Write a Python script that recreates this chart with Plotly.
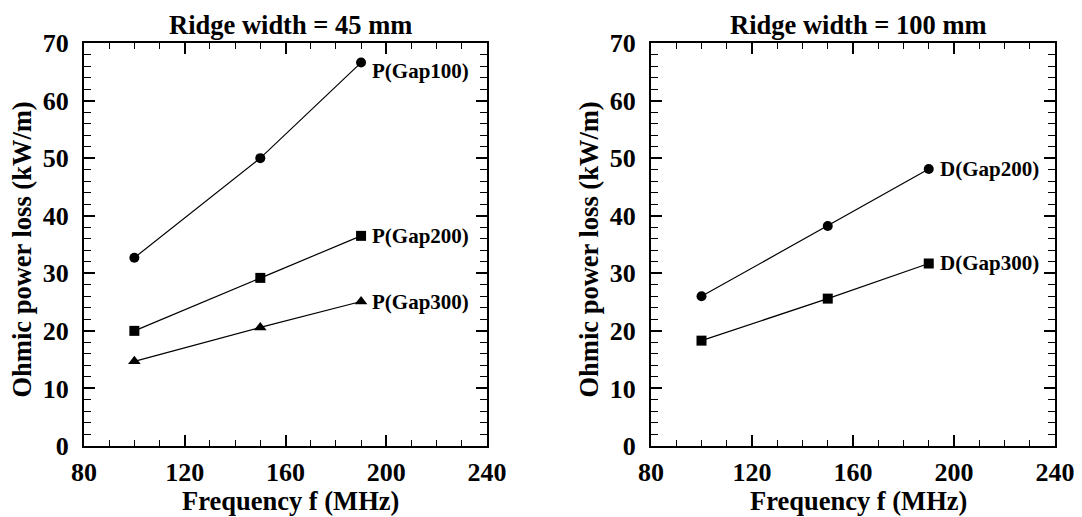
import plotly.graph_objects as go

freq = [100, 150, 190]
left_gap100 = [32.7, 50.0, 66.6]
left_gap200 = [20.0, 29.2, 36.5]
left_gap300 = [14.7, 20.6, 25.1]
right_gap200 = [26.0, 38.2, 48.1]
right_gap300 = [18.3, 25.6, 31.7]

titles = ["Ridge width = 45 mm", "Ridge width = 100 mm"]
x_title = "Frequency f (MHz)"
y_title = "Ohmic power loss (kW/m)"

W, H = 1082, 517
OFF = 8  # page body margin of the html page
FONT = "Liberation Serif"

fig = go.Figure()

series = [
    ("x", "y", left_gap100, "circle", "P(Gap100)", -8),
    ("x", "y", left_gap200, "square", "P(Gap200)", 0),
    ("x", "y", left_gap300, "triangle-up", "P(Gap300)", 0),
    ("x2", "y2", right_gap200, "circle", "D(Gap200)", 0),
    ("x2", "y2", right_gap300, "square", "D(Gap300)", 0),
]

annotations = []
for xa, ya, vals, sym, label, ys in series:
    fig.add_trace(go.Scatter(
        x=freq, y=vals, xaxis=xa, yaxis=ya, mode="lines+markers",
        line=dict(color="black", width=1.2),
        marker=dict(symbol=sym, size=10 if sym != "triangle-up" else 11, color="black"),
        showlegend=False,
    ))
    annotations.append(dict(
        x=freq[-1], y=vals[-1], xref=xa, yref=ya, text=label,
        showarrow=False, xanchor="left", yanchor="middle", xshift=9, yshift=ys,
        font=dict(family=FONT, size=21, color="black", weight="bold"),
    ))

def px_x(p):
    return (p - OFF) / W

def px_y(p):
    return 1 - (p - OFF) / H

# panel geometry (reference pixels)
panels = [(84, 487, 21.5), (651, 1055, 588.5)]
top, bottom = 43, 446

axis_common = dict(
    showline=True, linecolor="black", linewidth=2, mirror="ticks",
    ticks="inside", ticklen=11, tickwidth=1.6, tickcolor="black",
    showgrid=False, zeroline=False, automargin=False,
    tickfont=dict(family=FONT, size=26, color="black", weight="bold"),
)

layout_axes = {}
for i, (l, r, ytx) in enumerate(panels):
    sfx = "" if i == 0 else str(i + 1)
    msfx = str(i + 3)
    xdom = [px_x(l), px_x(r)]
    ydom = [px_y(bottom), px_y(top)]
    layout_axes["xaxis" + sfx] = dict(
        axis_common, domain=xdom, range=[80, 240],
        tickmode="linear", tick0=80, dtick=40,
        anchor="y" + sfx, ticklabelstandoff=2,
    )
    layout_axes["yaxis" + sfx] = dict(
        axis_common, domain=ydom, range=[0, 70],
        tickmode="linear", tick0=0, dtick=10,
        anchor="x" + sfx, ticklabelstandoff=8,
    )
    # minor tick axes overlaid on the main ones
    layout_axes["xaxis" + msfx] = dict(
        domain=xdom, range=[80, 240], overlaying="x" + sfx, anchor="y" + msfx,
        tickmode="linear", tick0=80, dtick=10, ticks="inside", ticklen=6,
        tickwidth=1.3, tickcolor="black", showticklabels=False,
        showline=True, linecolor="black", linewidth=2, mirror="ticks",
        showgrid=False, zeroline=False, automargin=False,
    )
    layout_axes["yaxis" + msfx] = dict(
        domain=ydom, range=[0, 70], overlaying="y" + sfx, anchor="x" + msfx,
        tickmode="linear", tick0=0, dtick=2, ticks="inside", ticklen=7,
        tickwidth=1.3, tickcolor="black", showticklabels=False,
        showline=True, linecolor="black", linewidth=2, mirror="ticks",
        showgrid=False, zeroline=False, automargin=False,
    )
    fig.add_trace(go.Scatter(
        x=[None], y=[None], xaxis="x" + msfx, yaxis="y" + msfx,
        mode="markers", showlegend=False, hoverinfo="skip",
    ))
    cx = (l + r) / 2 + 5
    annotations.append(dict(
        x=px_x(cx), y=px_y(25), xref="paper", yref="paper", text=titles[i],
        showarrow=False, xanchor="center", yanchor="middle",
        font=dict(family=FONT, size=26.5, color="black", weight="bold"),
    ))
    annotations.append(dict(
        x=px_x(cx), y=px_y(501), xref="paper", yref="paper", text=x_title,
        showarrow=False, xanchor="center", yanchor="middle",
        font=dict(family=FONT, size=26.5, color="black", weight="bold"),
    ))
    annotations.append(dict(
        x=px_x(ytx), y=px_y(250), xref="paper", yref="paper",
        text=y_title, textangle=-90,
        showarrow=False, xanchor="center", yanchor="middle",
        font=dict(family=FONT, size=26.5, color="black", weight="bold"),
    ))

fig.update_layout(
    width=W, height=H, margin=dict(l=0, r=0, t=0, b=0),
    plot_bgcolor="white", paper_bgcolor="white",
    annotations=annotations, **layout_axes,
)

fig.write_html("out.html")
